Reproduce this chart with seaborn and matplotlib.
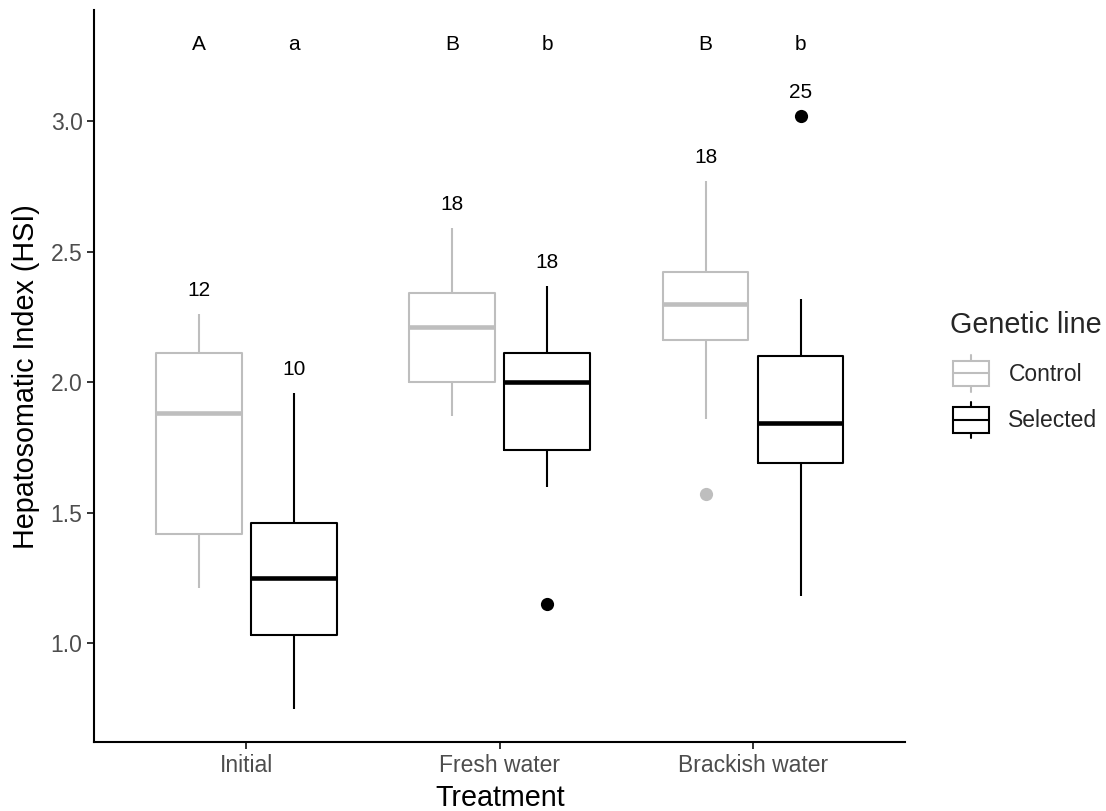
import numpy as np
import pandas as pd
import matplotlib
matplotlib.use("Agg")
import matplotlib.pyplot as plt
import seaborn as sns
from matplotlib.legend_handler import HandlerBase
from matplotlib.patches import Rectangle, Patch
from matplotlib.lines import Line2D

# ---- data -------------------------------------------------------------
treatments = ["Initial", "Fresh water", "Brackish water"]
genetic_lines = ["Control", "Selected"]

# five-number summaries (lower whisker, Q1, median, Q3, upper whisker)
control_low = [1.21, 1.87, 1.86]
control_q1 = [1.42, 2.00, 2.16]
control_med = [1.88, 2.21, 2.30]
control_q3 = [2.11, 2.34, 2.42]
control_high = [2.26, 2.59, 2.77]

selected_low = [0.75, 1.60, 1.18]
selected_q1 = [1.03, 1.74, 1.69]
selected_med = [1.25, 2.00, 1.845]
selected_q3 = [1.46, 2.11, 2.10]
selected_high = [1.96, 2.37, 2.32]

# outlying fish
outlier_treatment = ["Brackish water", "Fresh water", "Brackish water"]
outlier_line = ["Control", "Selected", "Selected"]
outlier_hsi = [1.57, 1.15, 3.02]

# sample sizes and significance letters
control_n = [12, 18, 18]
selected_n = [10, 18, 25]
control_letters = ["A", "B", "B"]
selected_letters = ["a", "b", "b"]

colors = {"Control": "#BEBEBE", "Selected": "#000000"}

# ---- long-form table ----------------------------------------------------
summaries = {
    "Control": [control_low, control_q1, control_med, control_q3, control_high],
    "Selected": [selected_low, selected_q1, selected_med, selected_q3, selected_high],
}
rows = []
for line, stats in summaries.items():
    for i, trt in enumerate(treatments):
        for s in stats:
            rows.append({"Treatment": trt, "Genetic line": line, "HSI": s[i]})
df = pd.DataFrame(rows)
out_df = pd.DataFrame({"Treatment": outlier_treatment,
                       "Genetic line": outlier_line,
                       "HSI": outlier_hsi})

# ---- style --------------------------------------------------------------
sns.set_style("ticks")
plt.rcParams["font.family"] = ["Liberation Sans", "DejaVu Sans"]

fig = plt.figure(figsize=(11.06, 8.11), dpi=100)
ax = fig.add_axes([0.0853, 0.0847, 0.7330, 0.9030])

box_width = 0.75
sns.boxplot(data=df, x="Treatment", y="HSI", hue="Genetic line",
            order=treatments, hue_order=genetic_lines, palette=colors,
            fill=False, width=box_width, gap=0.1, dodge=True,
            whis=np.inf, showfliers=False, showcaps=False,
            linewidth=1.5, medianprops={"linewidth": 3.3},
            legend=False, ax=ax)

sns.pointplot(data=out_df, x="Treatment", y="HSI", hue="Genetic line",
              order=treatments, hue_order=genetic_lines, palette=colors,
              dodge=box_width / 2, errorbar=None, markers="o",
              linestyle="none", markersize=9.5, markeredgewidth=0,
              legend=False, ax=ax)

# ---- annotations --------------------------------------------------------
offset = box_width / 4
for i in range(len(treatments)):
    for line, sign, n_list, let_list in [
        ("Control", -1, control_n, control_letters),
        ("Selected", 1, selected_n, selected_letters),
    ]:
        x = i + sign * offset
        top = summaries[line][4][i]
        extra = out_df[(out_df["Treatment"] == treatments[i]) &
                       (out_df["Genetic line"] == line)]["HSI"]
        if len(extra):
            top = max(top, extra.max())
        ax.text(x, top + 0.09, str(n_list[i]), ha="center", va="center",
                fontsize=15, color="black")
        ax.text(x, 3.293, let_list[i], ha="center", va="center",
                fontsize=15, color="black")

# ---- axes ---------------------------------------------------------------
ax.set_xlim(-0.6, 2.6)
ax.set_ylim(0.621, 3.425)
ax.set_yticks([1.0, 1.5, 2.0, 2.5, 3.0])
ax.set_yticklabels(["1.0", "1.5", "2.0", "2.5", "3.0"])
sns.despine(ax=ax)
for side in ["left", "bottom"]:
    ax.spines[side].set_linewidth(1.5)
    ax.spines[side].set_color("black")
ax.tick_params(axis="both", length=5, width=1.4, color="#333333",
               labelsize=16.5, labelcolor="#4D4D4D", pad=3.5)
ax.set_xlabel("Treatment", fontsize=20.7, color="black", labelpad=5)
ax.set_ylabel("Hepatosomatic Index (HSI)", fontsize=20.7, color="black",
              labelpad=8)


# ---- legend with box-shaped keys -----------------------------------------
class BoxKey(HandlerBase):
    def create_artists(self, legend, orig_handle, xdescent, ydescent,
                       width, height, fontsize, trans):
        col = orig_handle.get_edgecolor()
        x0, y0 = -xdescent + 2, -ydescent
        lw = 1.5
        box = Rectangle((x0, y0 + 0.15 * height), width, 0.7 * height,
                        facecolor="white", edgecolor=col, lw=lw,
                        transform=trans)
        med = Line2D([x0, x0 + width], [y0 + 0.5 * height] * 2,
                     color=col, lw=lw, transform=trans)
        wl = Line2D([x0 + width / 2] * 2, [y0, y0 + 0.15 * height],
                    color=col, lw=lw, transform=trans)
        wh = Line2D([x0 + width / 2] * 2, [y0 + 0.85 * height, y0 + height],
                    color=col, lw=lw, transform=trans)
        return [wl, wh, box, med]


handles = [Patch(edgecolor=colors[g], facecolor="white") for g in genetic_lines]
leg = fig.legend(handles, genetic_lines, handler_map={Patch: BoxKey()},
                 title="Genetic line", loc="upper left",
                 bbox_to_anchor=(950 / 1106, 1 - 311 / 811),
                 frameon=False, fontsize=16.5, title_fontsize=20.7,
                 handlelength=1.6, handleheight=2.05, handletextpad=0.95,
                 labelspacing=0.45, borderpad=0, borderaxespad=0,
                 alignment="left")
# a little more room between the legend title and its entries
leg._legend_box.sep = 11.8

fig.savefig("out.png", dpi=100)
